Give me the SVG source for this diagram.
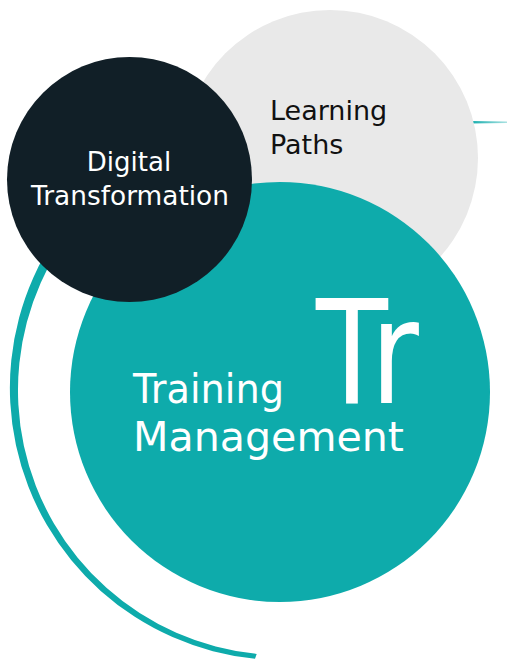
<svg xmlns="http://www.w3.org/2000/svg" width="507" height="659" viewBox="0 0 507 659">
  <defs>
    <linearGradient id="lineGrad" x1="0" y1="0" x2="1" y2="0">
      <stop offset="0" stop-color="#0eabab" stop-opacity="1"/>
      <stop offset="1" stop-color="#0eabab" stop-opacity="0.35"/>
    </linearGradient>
    <style>
      .lbl { font-family: "DejaVu Sans", "Liberation Sans", sans-serif; }
      .white { fill: #ffffff; }
      .dark { fill: #111111; }
      .teal { fill: #0eabab; }
    </style>
  </defs>
  <rect width="507" height="659" fill="#ffffff"/>

  <g id="decor">
    <path class="teal" d="M146,152.4 A272,272 0 0 0 255,658.7 L256.7,653.9 A265,265 0 0 1 150.5,160.7 Z"/>
    <path fill="url(#lineGrad)" d="M470,120.9 L507,121.5 L507,122.9 L470,123.5 Z"/>
  </g>

  <g id="learning-paths">
    <circle cx="330" cy="158" r="148" fill="#e9e9e9"/>
    <text class="lbl dark" x="270" y="120" font-size="27">Learning</text>
    <text class="lbl dark" x="270" y="154" font-size="27">Paths</text>
  </g>

  <g id="training-management">
    <circle class="teal" cx="280" cy="392" r="210"/>
    <text class="lbl white" x="316" y="403" font-size="145" textLength="103" lengthAdjust="spacingAndGlyphs">Tr</text>
    <text class="lbl white" x="133" y="402.5" font-size="40" textLength="151" lengthAdjust="spacingAndGlyphs">Training</text>
    <text class="lbl white" x="133" y="450.5" font-size="40" textLength="271" lengthAdjust="spacingAndGlyphs">Management</text>
  </g>

  <g id="digital-transformation">
    <circle cx="129.5" cy="179.5" r="122.5" fill="#111f27"/>
    <text class="lbl white" x="129" y="171" font-size="26" text-anchor="middle">Digital</text>
    <text class="lbl white" x="130" y="205" font-size="26" text-anchor="middle" textLength="198" lengthAdjust="spacingAndGlyphs">Transformation</text>
  </g>
</svg>
